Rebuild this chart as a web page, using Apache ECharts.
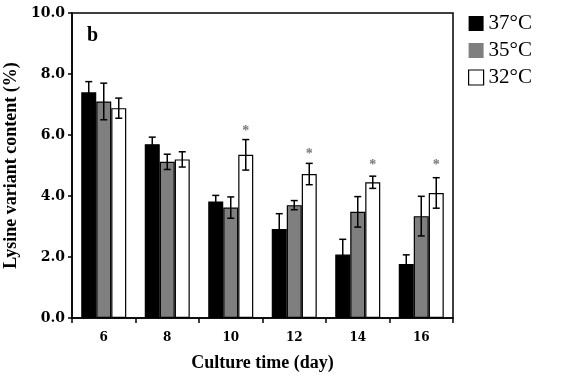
<!DOCTYPE html>
<html>
<head>
<meta charset="utf-8">
<script src="https://cdn.jsdelivr.net/npm/echarts@6/dist/echarts.min.js"></script>
<style>
  html, body { margin: 0; padding: 0; background: #fff; }
  #chart { width: 572px; height: 376px; }
</style>
</head>
<body>
<div id="chart"></div>
<script>
var days = ['6', '8', '10', '12', '14', '16']
var temps = ['37°C', '35°C', '32°C']
var mean37 = [7.4, 5.7, 3.82, 2.92, 2.08, 1.77]
var err37 = [0.35, 0.23, 0.2, 0.5, 0.5, 0.3]
var mean35 = [7.1, 5.12, 3.62, 3.7, 3.48, 3.34]
var err35 = [0.6, 0.25, 0.35, 0.15, 0.5, 0.65]
var mean32 = [6.88, 5.2, 5.35, 4.72, 4.45, 4.1]
var err32 = [0.33, 0.25, 0.5, 0.35, 0.2, 0.5]
var stars = ['-', '-', 6.12, 5.36, 5.0, 5.0]
var yTicks = [0, 2, 4, 6, 8, 10]

var serif = '"Liberation Serif", "DejaVu Serif", serif'
var wideSerif = '"DejaVu Serif", serif'
var barW = 15
var colors = ['#000000', '#7f7f7f', '#ffffff']

function errSeries (means, errs, idx) {
  var data = means.map(function (m, i) { return [i, m - errs[i], m + errs[i]] })
  return {
    type: 'custom',
    silent: true,
    z: 5,
    data: data,
    encode: { x: 0, y: [1, 2] },
    renderItem: function (params, api) {
      var lo = api.coord([api.value(0), api.value(1)])
      var hi = api.coord([api.value(0), api.value(2)])
      var x = lo[0] + (idx - 1) * barW
      var cap = 3.5
      var st = { stroke: '#000', lineWidth: 1.5 }
      return {
        type: 'group',
        children: [
          { type: 'line', shape: { x1: x, y1: lo[1], x2: x, y2: hi[1] }, style: st },
          { type: 'line', shape: { x1: x - cap, y1: lo[1], x2: x + cap, y2: lo[1] }, style: st },
          { type: 'line', shape: { x1: x - cap, y1: hi[1], x2: x + cap, y2: hi[1] }, style: st }
        ]
      }
    }
  }
}

function barSeries (name, means, idx) {
  return {
    name: name,
    type: 'bar',
    data: means,
    barWidth: barW,
    barGap: '0%',
    itemStyle: { color: colors[idx], borderColor: '#000', borderWidth: 1.2 }
  }
}

var chart = echarts.init(document.getElementById('chart'))
var option = {
  backgroundColor: '#fff',
  animation: false,
  title: {
    text: 'b',
    left: 82,
    top: 21,
    textStyle: { fontFamily: serif, fontSize: 20, fontWeight: 'bold', color: '#000' }
  },
  legend: {
    orient: 'vertical',
    left: 463,
    top: 8,
    itemWidth: 15,
    itemHeight: 15,
    itemGap: 6,
    icon: 'rect',
    data: [
      { name: temps[0], itemStyle: { borderWidth: 0 } },
      { name: temps[1], itemStyle: { borderWidth: 0 } },
      { name: temps[2], itemStyle: { borderWidth: 1.2, borderColor: '#000' } }
    ],
    textStyle: { fontFamily: serif, fontSize: 21, color: '#000' }
  },
  grid: {
    left: 72,
    right: 119,
    top: 13,
    bottom: 58,
    outerBoundsMode: 'none',
    show: true,
    borderColor: '#000',
    borderWidth: 1.5,
    backgroundColor: 'transparent'
  },
  xAxis: {
    type: 'category',
    data: days,
    name: 'Culture time (day)',
    nameLocation: 'middle',
    nameGap: 36,
    nameTextStyle: { fontFamily: serif, fontSize: 18, fontWeight: 'bold', color: '#000' },
    axisLine: { lineStyle: { color: '#000', width: 1.5 } },
    axisTick: { show: true, length: 5, lineStyle: { color: '#000', width: 1.5 } },
    axisLabel: { margin: 14, fontFamily: wideSerif, fontSize: 12, fontWeight: 'bold', color: '#000' }
  },
  yAxis: {
    type: 'value',
    min: 0,
    max: 10,
    interval: 2,
    name: 'Lysine variant content (%)',
    nameLocation: 'middle',
    nameGap: 51,
    nameTextStyle: { fontFamily: serif, fontSize: 18, fontWeight: 'bold', color: '#000' },
    splitLine: { show: false },
    axisLine: { show: true, lineStyle: { color: '#000', width: 1.5 } },
    axisTick: { show: true, length: 4, lineStyle: { color: '#000', width: 1.5 } },
    axisLabel: {
      margin: 7,
      fontFamily: wideSerif,
      fontSize: 14,
      fontWeight: 'bold',
      color: '#000',
      formatter: function (v) { return yTicks.indexOf(v) >= 0 ? v.toFixed(1) : '' }
    }
  },
  series: [
    barSeries(temps[0], mean37, 0),
    barSeries(temps[1], mean35, 1),
    barSeries(temps[2], mean32, 2),
    errSeries(mean37, err37, 0),
    errSeries(mean35, err35, 1),
    errSeries(mean32, err32, 2),
    {
      type: 'custom',
      silent: true,
      z: 6,
      data: stars.map(function (s, i) { return [i, s] }),
      renderItem: function (params, api) {
        if (isNaN(api.value(1))) return null
        var p = api.coord([api.value(0), api.value(1)])
        return {
          type: 'text',
          style: {
            x: p[0] + barW, y: p[1], text: '*',
            fill: '#777', font: 'bold 14px ' + serif,
            align: 'center', verticalAlign: 'middle'
          }
        }
      }
    }
  ]
}
chart.setOption(option)
</script>
</body>
</html>
